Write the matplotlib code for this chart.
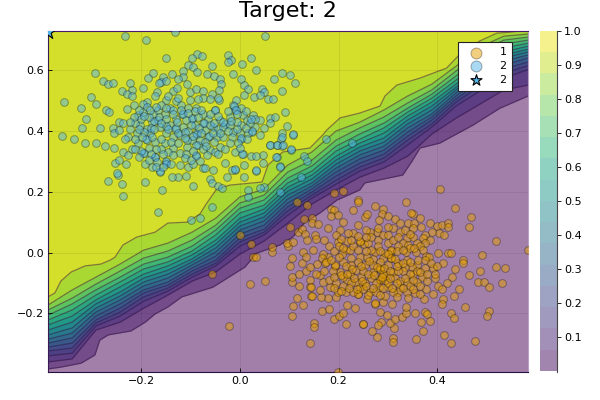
import numpy as np
import matplotlib
matplotlib.use('Agg')
import matplotlib.pyplot as plt

# contour lines: x positions, then for each x the y of
# the 15 level lines, from the top (yellow) line to the bottom (purple) one
line_x = [-0.389, -0.340, -0.292, -0.243, -0.195, -0.146, -0.097, -0.049, 0.0, 0.049, 0.097,
          0.146, 0.195, 0.243, 0.292, 0.340, 0.389, 0.438, 0.486, 0.535, 0.584]
line_y = [
    [-.146, -.173, -.189, -.206, -.222, -.238, -.255, -.271, -.285, -.298, -.311, -.324, -.340, -.360, -.383],
    [-.064, -.123, -.150, -.169, -.189, -.209, -.229, -.248, -.265, -.281, -.298, -.314, -.331, -.350, -.373],
    [-.041, -.081, -.104, -.123, -.140, -.156, -.169, -.183, -.196, -.209, -.222, -.232, -.242, -.255, -.334],
    [.008, -.038, -.061, -.081, -.097, -.113, -.130, -.143, -.156, -.169, -.183, -.196, -.209, -.229, -.265],
    [.061, .008, -.018, -.038, -.054, -.071, -.084, -.097, -.110, -.123, -.133, -.146, -.160, -.183, -.232],
    [.097, .031, .005, -.015, -.031, -.044, -.058, -.071, -.084, -.097, -.107, -.117, -.127, -.140, -.179],
    [.110, .067, .041, .021, .005, -.008, -.021, -.031, -.041, -.051, -.061, -.071, -.081, -.094, -.123],
    [.199, .113, .090, .074, .058, .041, .028, .015, .002, -.012, -.025, -.035, -.044, -.064, -.107],
    [.225, .183, .163, .146, .130, .113, .100, .087, .074, .061, .048, .035, .021, -.005, -.058],
    [.238, .209, .189, .173, .156, .143, .130, .117, .104, .090, .077, .067, .058, .038, .005],
    [.334, .288, .265, .245, .229, .215, .202, .189, .176, .163, .150, .137, .123, .097, .038],
    [.350, .331, .304, .285, .268, .255, .242, .229, .219, .209, .199, .189, .179, .160, .117],
    [.433, .400, .370, .350, .334, .317, .304, .291, .278, .265, .252, .238, .225, .206, .166],
    [.459, .429, .410, .390, .373, .360, .347, .334, .321, .308, .294, .281, .268, .248, .215],
    [.508, .469, .446, .426, .410, .393, .377, .363, .350, .337, .324, .311, .298, .278, .238],
    [.564, .515, .492, .475, .462, .449, .436, .423, .410, .396, .383, .370, .354, .317, .278],
    [.590, .554, .535, .521, .508, .495, .482, .469, .456, .446, .436, .423, .413, .390, .350],
    [.640, .613, .597, .581, .567, .554, .544, .535, .525, .515, .505, .495, .482, .442, .383],
    [.696, .676, .660, .643, .630, .617, .607, .597, .587, .574, .561, .548, .531, .488, .429],
    [.725, .712, .699, .686, .673, .660, .650, .640, .630, .617, .604, .591, .574, .535, .485],
    [.729, .719, .709, .699, .689, .679, .669, .660, .650, .640, .627, .615, .602, .551, .515],
]

# the outermost two lines have sharper steps, so they get their own finer trace
top_line_x = [-.389, -.375, -.363, -.342, -.314, -.282, -.263, -.253, -.237, -.209, -.172, -.146, -.107, -.081,
              -.067, -.047, -.020, .045, .057, .087, .142, .168, .176, .203, .243, .284, .294, .318, .365, .419,
              .442, .486, .521, .547, .584]
top_line_y = [-.146, -.133, -.094, -.064, -.044, -.038, -.025, -.015, .025, .051, .067, .097, .100, .127,
              .163, .209, .222, .232, .288, .331, .344, .387, .403, .443, .459, .482, .515, .551, .574, .607,
              .646, .696, .722, .725, .732]
bottom_line_x = [-.389, -.363, -.322, -.294, -.284, -.267, -.221, -.192, -.172, -.146, -.118, -.055, 0.0, .010,
                 .034, .081, .107, .132, .162, .197, .243, .253, .330, .349, .365, .405, .472, .527, .584]
bottom_line_y = [-.383, -.377, -.364, -.337, -.288, -.271, -.258, -.229, -.202, -.179, -.146, -.114, -.058, -.048,
                 -.002, .025, .051, .100, .130, .173, .206, .229, .255, .301, .344, .360, .419, .475, .515]

class2_points = [
    (-.233, .713), (-.190, .699), (-.131, .726), (.051, .713), (-.149, .641), (-.086, .654), (-.097, .639),
    (-.076, .647), (-.025, .651), (-.019, .633), (-.025, .628), (-.057, .615), (.004, .620), (.022, .640),
    (.032, .601), (-.294, .590), (-.177, .592), (-.186, .574), (-.105, .617), (-.096, .609), (-.086, .595),
    (-.066, .589), (-.053, .581), (-.040, .572), (-.014, .587), (.086, .591), (.101, .583), (.111, .559),
    (.069, .570), (-.278, .564), (-.268, .553), (-.258, .559), (-.222, .559), (-.238, .533), (-.219, .536),
    (-.228, .521), (-.218, .515), (-.197, .541), (-.155, .578), (-.159, .562), (-.149, .565), (-.138, .588),
    (-.163, .558), (-.116, .597), (-.115, .578), (-.125, .570), (-.108, .556), (.003, .570), (.008, .551),
    (-.039, .554), (-.042, .535), (.017, .537), (-.169, .529), (-.172, .515), (-.136, .533), (-.127, .540),
    (-.101, .529), (-.088, .538), (-.074, .532), (-.057, .521), (-.074, .509), (-.061, .504), (-.042, .501),
    (.008, .518), (.029, .512), (.044, .537), (.049, .529), (.041, .518), (.057, .505), (.068, .504),
    (.086, .533), (-.356, .496), (-.302, .513), (-.291, .488), (-.323, .474), (-.272, .468), (-.265, .461),
    (-.311, .440), (-.321, .411), (-.284, .411), (-.360, .383), (-.336, .375), (-.314, .361), (-.292, .361),
    (-.274, .350), (-.255, .343), (-.246, .429), (-.237, .425), (-.258, .411), (-.255, .394), (-.245, .403),
    (-.228, .472), (-.214, .485), (-.188, .496), (-.197, .488), (-.149, .501), (.091, .461), (.061, .443),
    (.071, .446), (.096, .417), (.061, .425), (.049, .411), (.107, .388), (.086, .394), (.084, .375),
    (.061, .354), (.076, .354), (.086, .351), (.103, .339), (.046, .321), (.046, .296), (.022, .319),
    (.032, .318), (.007, .323), (.076, .313), (.082, .285), (.009, .289), (.032, .269), (.008, .249),
    (-.009, .271), (-.017, .271), (-.027, .249), (-.030, .296), (-.074, .277), (-.070, .279), (-.055, .270),
    (-.061, .241), (-.057, .229), (-.044, .218), (-.037, .214), (-.095, .220), (-.110, .252), (-.125, .249),
    (-.138, .247), (-.157, .205), (-.193, .231), (-.236, .187), (-.240, .225), (-.247, .255), (-.250, .262),
    (-.268, .236), (-.253, .296), (-.231, .293), (-.245, .306), (-.236, .332), (-.226, .320), (-.218, .342),
    (-.226, .379), (-.233, .375), (.049, .216), (.041, .211), (.082, .200), (.016, .205), (.016, .183),
    (-.057, .151), (-.206, .452), (-.196, .463), (-.189, .479), (-.176, .457), (-.166, .468), (-.159, .485),
    (-.152, .457), (-.142, .474), (-.135, .468), (-.118, .455), (-.105, .474), (-.101, .501), (-.088, .477),
    (-.074, .457), (-.064, .441), (-.051, .468), (-.041, .435), (-.030, .424), (-.014, .485), (-.010, .468),
    (.003, .474), (.007, .452), (.014, .435), (.027, .452), (.024, .397), (.003, .375), (.003, .419),
    (-.014, .397), (-.007, .501), (-.020, .446), (-.203, .419), (-.189, .408), (-.179, .430), (-.166, .436),
    (-.162, .413), (-.142, .419), (-.132, .408), (-.115, .413), (-.098, .441), (-.091, .419), (-.074, .425),
    (-.071, .403), (-.088, .392), (-.064, .381), (-.047, .381), (-.034, .381), (-.017, .381), (-.098, .370),
    (-.084, .354), (-.108, .348), (-.088, .321), (-.061, .339), (-.041, .348), (-.051, .332), (-.010, .332),
    (-.189, .370), (-.172, .365), (-.152, .359), (-.206, .359), (-.196, .326), (-.172, .313), (-.149, .299),
    (-.162, .266), (-.179, .282), (-.193, .293), (-.135, .343), (-.122, .326), (-.122, .288), (-.105, .282),
    (-.095, .293), (-.108, .370), (-.182, .392), (-.209, .392), (-.223, .408), (-.212, .425), (-.122, .386),
    (-.135, .381), (-.149, .392), (-.054, .414), (-.044, .408), (-.034, .414), (.041, .435), (.030, .414),
    (.017, .392), (.041, .386), (.000, .392), (.174, .373), (.228, .361), (.130, .317), (.136, .301),
    (.074, .314), (.081, .281), (.123, .249), (-.080, .113), (-.100, .107), (.061, .355), (.076, .353),
    (.087, .354), (.103, .340), (.107, .389), (.086, .381), (.033, .271), (-.010, .275), (-.166, .133),
    # denser middle of the cloud
    (-.190, .372), (-.088, .319), (-.162, .268), (-.150, .301), (-.150, .290), (-.097, .443), (-.086, .390),
    (-.116, .455), (.005, .325), (-.050, .470), (-.012, .483), (-.007, .470), (-.130, .410), (-.175, .432),
    (-.195, .328), (-.172, .315), (-.072, .427), (-.063, .383), (.025, .399), (.002, .377), (-.200, .440),
    (-.185, .445), (-.165, .445), (-.150, .440), (-.130, .440), (-.110, .435), (-.085, .445), (-.060, .420),
    (-.180, .410), (-.150, .415), (-.125, .395), (-.105, .400), (-.080, .370), (-.090, .355), (-.075, .340),
    (-.160, .340), (-.185, .345), (-.200, .335), (-.170, .340), (-.145, .330), (-.110, .325), (-.070, .365),
    (-.020, .420), (-.005, .430), (.020, .425), (.030, .440), (-.130, .500), (-.120, .485), (-.085, .505),
    (-.205, .470), (-.195, .450), (-.182, .468), (-.170, .478), (-.150, .475), (-.135, .455), (-.120, .470),
    (-.105, .458), (-.092, .465), (-.078, .470), (-.060, .455), (-.045, .450), (-.025, .465), (-.005, .455),
    (.012, .465), (.022, .440), (-.018, .432), (-.035, .430), (-.052, .425), (-.082, .410), (-.100, .420),
    (-.112, .398), (-.128, .428), (-.145, .405), (-.160, .425), (-.175, .405), (-.195, .398), (-.215, .445),
    (-.222, .430), (-.205, .405), (-.212, .375), (-.198, .380), (-.178, .380), (-.160, .375), (-.140, .365),
    (-.125, .360), (-.112, .378), (-.095, .385), (-.078, .395), (-.055, .395), (-.040, .395), (-.025, .400),
    (-.005, .405), (.012, .410), (.015, .375), (-.003, .360), (-.020, .360), (-.052, .365), (-.068, .350),
    (-.095, .335), (-.112, .310), (-.135, .320), (-.155, .325), (-.180, .325), (-.185, .305), (-.168, .298),
    (-.140, .290), (-.100, .305), (-.080, .300), (-.066, .320), (-.045, .325), (-.030, .340), (.000, .345),
    (-.170, .280), (-.155, .280), (-.212, .340), (-.205, .315), (-.125, .510), (-.145, .515), (-.045, .510),
]

class1_points = [
    (.405, .209), (.436, .147), (.469, .118), (.465, .083), (.519, .038), (.585, .007), (.491, -.009),
    (.520, -.047), (.538, -.052), (.486, -.061), (.464, -.074), (.482, -.098), (.494, -.098), (.505, -.112),
    (.532, -.101), (.445, -.120), (.434, -.143), (.456, -.178), (.505, -.192), (.500, -.208), (.428, -.198),
    (.433, -.214), (.414, -.272), (.428, -.296), (.476, -.291), (.356, -.283), (.372, -.257), (.311, -.282),
    (.311, -.295), (.277, -.277), (.267, -.259), (.313, -.249), (.304, -.231), (.287, -.227), (.280, -.239),
    (.250, -.235), (.215, -.234), (.150, -.233), (.151, -.245), (.143, -.298), (.106, -.208), (.107, -.175),
    (.115, -.149), (.127, -.173), (.166, -.191), (.181, -.185), (.190, -.220), (.201, -.209), (.208, -.200),
    (.218, -.173), (.233, -.184), (.274, -.169), (.285, -.195), (.299, -.206), (.314, -.219), (.328, -.211),
    (.336, -.200), (.336, -.178), (.355, -.200), (.376, -.197), (.380, -.202), (.368, -.228), (.386, -.226),
    (.308, -.169), (.291, -.164), (.294, -.142), (.240, -.138), (.257, -.154), (.195, -.146), (.179, -.151),
    (.164, -.146), (.145, -.143), (.143, -.112), (.142, -.090), (.120, -.110), (.106, -.096), (.105, -.082),
    (.120, -.072), (.133, -.061), (.102, -.044), (.125, -.034), (.106, -.019), (.050, -.093), (.066, .002),
    (.066, .019), (.097, .022), (.095, .032), (.107, .036), (.101, .083), (.118, .068), (.126, .079),
    (.132, .061), (.137, .041), (.149, .008), (.152, .058), (.155, .044), (.130, .109), (.116, .165),
    (.137, .156), (.191, .195), (.209, .202), (.240, .173), (.240, .165), (.273, .154), (.337, .167),
    (.230, .140), (.184, .142), (.190, .140), (.185, .121), (.199, .123), (.147, .115), (.147, .096),
    (.159, .093), (.179, .082), (.208, .101), (.203, .074), (.195, .058), (.218, .039), (.230, .063),
    (.240, .090), (.254, .116), (.258, .126), (.291, .142), (.289, .127), (.301, .121), (.314, .112),
    (.282, .107), (.350, .126), (.346, .131), (.366, .115), (.324, .096), (.341, .098), (.353, .096),
    (.351, .080), (.367, .085), (.385, .096), (.399, .088), (.410, .090), (.422, .096), (.422, .085),
    (.404, .063), (.414, .058), (.389, .069), (.375, .058), (.372, .047), (.385, .041), (.277, .069),
    (.263, .069), (.255, .074), (.290, .058), (.311, .080), (.301, .058), (.324, .069), (.338, .047),
    (.243, .036), (.251, .028), (.301, .030), (.331, .030), (.341, .025), (.358, .030), (.375, .030),
    (.180, .021), (.199, .036), (.216, .008), (.179, -.014), (.169, -.005), (.128, .002), (.135, -.016),
    (.166, -.019), (.206, -.005), (.223, .008), (.226, -.017), (.243, -.014), (.257, -.014), (.274, .002),
    (.291, -.019), (.306, .006), (.307, -.019), (.336, .002), (.345, .014), (.357, .002), (.378, -.012),
    (.384, -.016), (.401, -.001), (.421, -.001), (.428, -.001), (.412, -.034), (.453, -.025), (.453, -.034),
    (.437, -.054), (.429, -.080), (.419, -.099), (.395, -.085), (.392, -.052), (.375, -.052), (.358, -.041),
    (.348, -.047), (.334, -.049), (.338, -.025), (.321, -.036), (.311, -.063), (.297, -.074), (.284, -.055),
    (.269, -.063), (.284, -.090), (.301, -.114), (.324, -.112), (.338, -.129), (.355, -.132), (.377, -.120),
    (.401, -.109), (.409, -.120), (.392, -.136), (.374, -.153), (.412, -.153), (.410, -.169), (.358, -.096),
    (.370, -.080), (.351, -.072), (.338, -.096), (.321, -.129), (.282, -.112), (.264, -.129), (.243, -.112),
    (.216, -.129), (.198, -.131), (.183, -.112), (.169, -.096), (.162, -.123), (.218, -.090), (.236, -.096),
    (.254, -.101), (.203, -.063), (.223, -.069), (.236, -.058), (.193, -.044), (.188, -.060), (.157, -.039),
    (.143, -.047), (.162, -.074), (.173, -.036), (.254, -.041), (.000, .058), (.022, .028), (.027, -.014),
    (.032, -.015), (-.057, -.071), (-.022, -.241), (.020, -.104), (.199, -.393),
    # denser middle of the cloud
    (.243, .037), (.306, .008), (.307, -.017), (.144, -.113), (.146, -.143), (.193, -.042), (.250, -.234),
    (.274, -.167), (.284, -.053), (.284, -.088), (.240, -.136), (.175, -.030), (.210, -.030), (.225, -.040),
    (.240, -.030), (.270, -.020), (.285, -.030), (.300, -.040), (.315, -.020), (.330, -.060), (.345, -.070),
    (.360, -.060), (.180, -.090), (.195, -.100), (.210, -.110), (.225, -.100), (.245, -.080), (.265, -.085),
    (.275, -.100), (.295, -.090), (.315, -.085), (.325, -.095), (.345, -.110), (.365, -.110), (.380, -.095),
    (.155, -.070), (.170, -.060), (.250, -.060), (.270, -.040), (.290, -.070), (.300, -.100), (.320, -.060),
    (.210, -.080), (.190, -.080), (.230, -.130), (.250, -.120), (.275, -.130), (.310, -.130), (.340, -.150),
    (.260, .030), (.280, .040), (.310, .040), (.320, .020), (.280, .020), (.230, .020), (.190, .005),
    (.350, .050), (.365, .020), (.200, .020), (.170, .040), (.265, .010), (.295, .000), (.320, .050),
    (.185, -.025), (.200, -.015), (.215, -.045), (.228, -.055), (.246, -.045), (.262, -.028), (.278, -.048),
    (.292, -.050), (.305, -.060), (.318, -.045), (.330, -.035), (.345, -.030), (.362, -.025), (.375, -.025),
    (.388, -.035), (.400, -.045), (.205, -.075), (.218, -.070), (.232, -.085), (.248, -.095), (.260, -.070),
    (.272, -.075), (.288, -.080), (.305, -.085), (.318, -.100), (.335, -.085), (.350, -.090), (.365, -.065),
    (.380, -.070), (.395, -.070), (.190, -.118), (.205, -.125), (.222, -.115), (.238, -.120), (.255, -.110),
    (.270, -.115), (.290, -.115), (.308, -.118), (.330, -.115), (.350, -.120), (.365, -.135), (.260, -.140),
    (.285, -.140), (.318, -.145), (.240, .010), (.255, .005), (.285, .005), (.300, -.005), (.318, .005),
    (.330, .010), (.352, .015), (.372, .010), (.210, .015), (.225, .040), (.265, .050), (.280, .080),
    (.300, .085), (.335, .075), (.345, .060), (.240, .055), (.255, .050), (.220, .065), (.205, .045),
]

target_x = [-0.388]
target_y = [0.727]

xlim = (-0.389, 0.584)
ylim = (-0.393, 0.729)
x_ticks = [-0.2, 0.0, 0.2, 0.4]
y_ticks = [-0.2, 0.0, 0.2, 0.4, 0.6]
cbar_ticks = [0.1 * i for i in range(1, 11)]
cbar_labels = ['0.1', '0.2', '0.3', '0.4', '0.5', '0.6', '0.7', '0.8', '0.9', '1.0']

color1 = (0.902, 0.624, 0.0, 0.5)
color2 = (0.337, 0.706, 0.914, 0.5)
edge = (0, 0, 0, 0.32)
cmap = plt.get_cmap('viridis')

fig = plt.figure(figsize=(6, 4), dpi=100)
ax = fig.add_axes([48 / 600, 28 / 400, 480 / 600, 341 / 400])

rows = np.array(line_y).T  # one row per level line, top line first
levels = [(top_line_x, top_line_y)] + [(line_x, r) for r in rows[1:-1]] + [(bottom_line_x, bottom_line_y)]
n_lines = len(levels)
ax.fill_between(line_x, ylim[0], ylim[1], color=cmap(0.0), alpha=0.5, lw=0)
# each level paints over everything above its line, so the colour builds up
for k in range(n_lines):
    lx, ly = levels[n_lines - 1 - k]
    ax.fill_between(lx, ly, ylim[1] + 0.1, color=cmap((k + 1) / n_lines), alpha=0.5, lw=0)
    ax.plot(lx, ly, color='#301040', alpha=0.5, lw=0.9)

ax.grid(True, color='black', alpha=0.1, lw=0.5)
pts1 = np.array(class1_points)
pts2 = np.array(class2_points)
ax.scatter(pts1[:, 0], pts1[:, 1], s=31, color=color1, edgecolor=edge, linewidth=0.7, label='1', zorder=3)
ax.scatter(pts2[:, 0], pts2[:, 1], s=31, color=color2, edgecolor=edge, linewidth=0.7, label='2', zorder=3)
ax.scatter(target_x, target_y, s=110, marker='*', color=color2[:3], edgecolor='black', linewidth=0.8, label='2', zorder=4)

ax.set_xlim(xlim)
ax.set_ylim(ylim)
ax.set_xticks(x_ticks)
ax.set_yticks(y_ticks)
ax.tick_params(direction='in', length=3, width=0.6, labelsize=8, pad=3)
ax.set_axisbelow(False)
ax.spines['left'].set_color('#3a1a55')
ax.spines['bottom'].set_color('#2a1040')
ax.spines['top'].set_color('#4a1a6a')
ax.spines['right'].set_color('#b8a0c8')
ax.set_title('Target: 2', fontsize=16, pad=10)

leg = ax.legend(loc='upper right', bbox_to_anchor=(0.967, 0.968), borderaxespad=0, fontsize=8, fancybox=False,
                framealpha=1, edgecolor='#222222', labelspacing=0.35, borderpad=0.5, handletextpad=1.0,
                handlelength=2.2)
leg.get_frame().set_linewidth(0.8)
for h, s in zip(leg.legend_handles, [62, 62, 70]):
    h.set_sizes([s])

cax = fig.add_axes([540 / 600, 28 / 400, 17 / 600, 341 / 400])
edges = np.linspace(0, 1, 17)
cax.pcolormesh([0, 1], edges, ((edges[:-1] + edges[1:]) / 2)[:, None], cmap=cmap, vmin=0, vmax=1, alpha=0.5,
               linewidth=0, rasterized=True)
cax.set_xticks([])
cax.yaxis.tick_right()
cax.set_yticks(cbar_ticks)
cax.set_yticklabels(cbar_labels)
cax.tick_params(axis='y', direction='out', length=3, width=0.6, labelsize=8, pad=2)
cax.set_ylim(-0.003, 1)
for s in ['left', 'top', 'bottom']:
    cax.spines[s].set_visible(False)
cax.spines['right'].set_color('#444444')

fig.savefig('out.png', dpi=100)
